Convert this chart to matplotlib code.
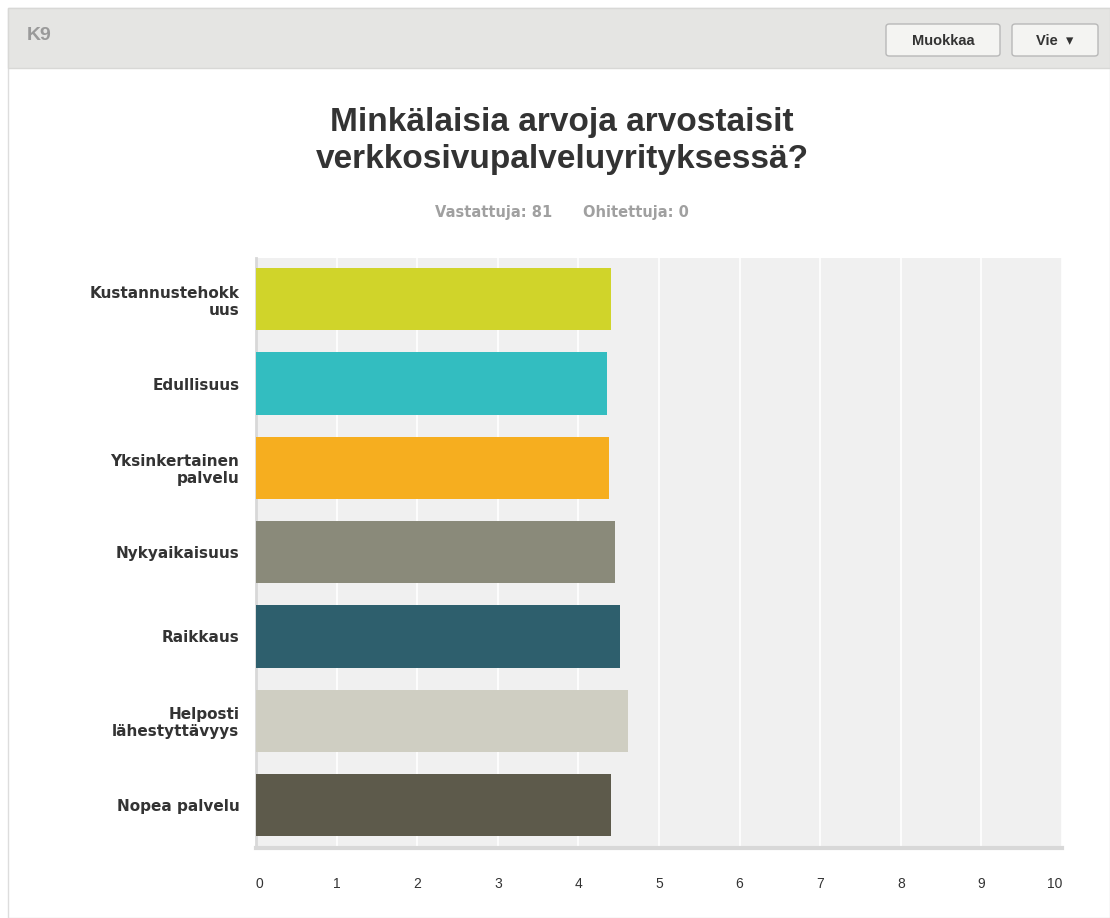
import matplotlib
matplotlib.use('Agg')
import matplotlib.pyplot as plt
from matplotlib.patches import Rectangle, FancyBboxPatch
import numpy as np

plt.rcParams['font.family'] = ['Liberation Sans', 'DejaVu Sans']

categories = ['Kustannustehokk\nuus', 'Edullisuus', 'Yksinkertainen\npalvelu', 'Nykyaikaisuus',
              'Raikkaus', 'Helposti\nlähestyttävyys', 'Nopea palvelu']
values = [4.41, 4.36, 4.38, 4.46, 4.51, 4.62, 4.41]
colors = ['#d0d42a', '#33bdc0', '#f6ae1f', '#8a8a7a', '#2e5f6d', '#cfcec2', '#5d5a4b']
xticks = list(range(0, 11))

W, H = 1110, 918
fig = plt.figure(figsize=(W / 100, H / 100), dpi=100)

def fx(x):
    return x / W

def fy(y):
    return 1 - y / H

# panel frame and header band (behind the axes)
fig.patches.append(Rectangle((fx(8), fy(918)), fx(1110 - 8), 918 / H - 8 / H, zorder=-10,
                             transform=fig.transFigure, facecolor='white', edgecolor='#dddddd', lw=1))
fig.patches.append(Rectangle((fx(8), fy(68)), fx(1110 - 8), 60 / H, zorder=-9,
                             transform=fig.transFigure, facecolor='#e5e5e3', edgecolor='#d8d8d6', lw=1))
fig.text(fx(27), fy(35), 'K9', fontsize=14, color='#9a9a9a', fontweight='bold', va='center')

# buttons
for x0, x1, label in [(886, 1000, 'Muokkaa'), (1012, 1098, 'Vie  \u25be')]:
    fig.patches.append(FancyBboxPatch((fx(x0), fy(56)), fx(x1 - x0), 32 / H, zorder=-8,
                                      boxstyle='round,pad=0,rounding_size=0.003',
                                      transform=fig.transFigure, facecolor='#f4f4f2',
                                      edgecolor='#b8b8b8', lw=1))
    fig.text(fx((x0 + x1) / 2), fy(41), label, fontsize=10.5, color='#333333',
             fontweight='bold', ha='center', va='center')

fig.text(fx(562), fy(141), 'Minkälaisia arvoja arvostaisit\nverkkosivupalveluyrityksessä?',
         fontsize=24, fontweight='bold', color='#333333', ha='center', va='center',
         linespacing=1.25)
fig.text(fx(562), fy(212), 'Vastattuja: 81      Ohitettuja: 0', fontsize=10.5,
         fontweight='bold', color='#a0a0a0', ha='center', va='center', family='DejaVu Sans')

ax = fig.add_axes([fx(256), fy(848), fx(1062 - 256), (848 - 258) / H])
ax.set_facecolor('#f0f0f0')
y = np.arange(len(categories))
ax.barh(y, values, height=0.74, color=colors, zorder=3)
ax.set_xlim(0, 10)
ax.set_ylim(6.51, -0.49)
ax.set_xticks(xticks)
ax.set_xticklabels([str(t) for t in xticks], fontsize=10, color='#333333')
xl = ax.get_xticklabels()
xl[0].set_ha('left')
xl[-1].set_ha('right')
ax.set_yticks(y)
ax.set_yticklabels(categories, fontsize=11, fontweight='bold', color='#333333',
                   linespacing=1.15, family='DejaVu Sans')
ax.tick_params(axis='both', length=0)
ax.tick_params(axis='x', pad=21)
ax.tick_params(axis='y', pad=12)
ax.grid(axis='x', color='white', lw=1.2, zorder=1)
for s in ['top', 'right']:
    ax.spines[s].set_visible(False)
ax.spines['left'].set_color('#d8d8d8')
ax.spines['left'].set_linewidth(2)
ax.spines['bottom'].set_color('#d8d8d8')
ax.spines['bottom'].set_linewidth(3)

fig.savefig('out.png', dpi=100)
